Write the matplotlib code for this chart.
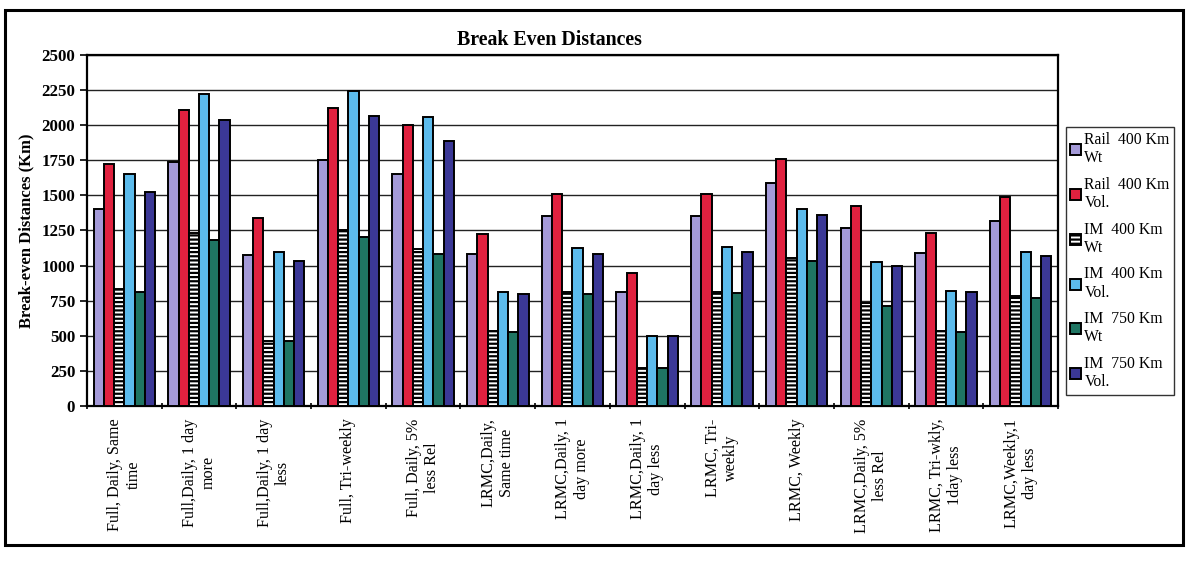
import numpy as np
import matplotlib
matplotlib.use("Agg")
import matplotlib.pyplot as plt
from matplotlib.patches import Rectangle

plt.rcParams['font.family'] = ['Liberation Serif', 'DejaVu Serif']
plt.rcParams['hatch.linewidth'] = 1.6

# scenarios along the x axis
categories = [
    "Full, Daily, Same\ntime",
    "Full,Daily, 1 day\nmore",
    "Full,Daily, 1 day\nless",
    "Full, Tri-weekly",
    "Full, Daily, 5%\nless Rel",
    "LRMC,Daily,\nSame time",
    "LRMC,Daily, 1\nday more",
    "LRMC,Daily, 1\nday less",
    "LRMC, Tri-\nweekly",
    "LRMC, Weekly",
    "LRMC,Daily, 5%\nless Rel",
    "LRMC, Tri-wkly,\n1day less",
    "LRMC,Weekly,1\nday less",
]

series_names = [
    "Rail  400 Km\nWt",
    "Rail  400 Km\nVol.",
    "IM  400 Km\nWt",
    "IM  400 Km\nVol.",
    "IM  750 Km\nWt",
    "IM  750 Km\nVol.",
]

rail_400_wt = [1400, 1740, 1075, 1755, 1650, 1085, 1350, 815, 1355, 1585, 1265, 1090, 1320]
rail_400_vol = [1720, 2105, 1340, 2125, 2000, 1225, 1510, 945, 1510, 1760, 1425, 1235, 1485]
im_400_wt = [835, 1235, 465, 1250, 1120, 535, 810, 270, 815, 1055, 730, 535, 785]
im_400_vol = [1655, 2225, 1100, 2245, 2060, 810, 1125, 495, 1135, 1405, 1025, 820, 1100]
im_750_wt = [810, 1185, 460, 1205, 1080, 530, 795, 270, 805, 1035, 710, 530, 770]
im_750_vol = [1525, 2040, 1030, 2065, 1890, 795, 1085, 500, 1095, 1360, 995, 810, 1065]

all_series = [rail_400_wt, rail_400_vol, im_400_wt, im_400_vol, im_750_wt, im_750_vol]
colors = ["#a49ad8", "#e0213f", "white", "#5cbbec", "#1f7563", "#3b3896"]
hatches = [None, None, "----", None, None, None]

fig = plt.figure(figsize=(11.88, 5.61), dpi=100)
ax = fig.add_axes([0.0732, 0.2763, 0.8174, 0.6257])

x = np.arange(len(categories))
bar_w = 0.137
for i, (vals, c, h, name) in enumerate(zip(all_series, colors, hatches, series_names)):
    offs = (i - 2.5) * bar_w
    ax.bar(x + offs, vals, width=bar_w, color=c, edgecolor="black",
           linewidth=1.4, hatch=h, label=name, zorder=3)

ax.set_xlim(-0.5, len(categories) - 0.5)
ax.set_ylim(0, 2500)
ax.set_yticks(np.arange(0, 2501, 250))
ax.yaxis.grid(True, color="#222222", linewidth=1.0, zorder=0)
ax.set_axisbelow(True)

# group boundaries get the tick marks, labels sit in the middle
ax.set_xticks(np.arange(-0.5, len(categories), 1.0))
ax.set_xticklabels([])
ax.set_xticks(x, minor=True)
ax.set_xticklabels(categories, minor=True, rotation=90, fontsize=11.6,
                   ha="center", va="top", multialignment="center")
ax.tick_params(axis="x", which="major", length=5, width=1.2, direction="inout")
ax.tick_params(axis="x", which="minor", length=0, pad=9)
ax.tick_params(axis="y", length=5, width=1.2, labelsize=12.2)
for lab in ax.get_yticklabels():
    lab.set_fontweight("bold")

for sp in ax.spines.values():
    sp.set_linewidth(1.6)
    sp.set_color("black")

ax.set_ylabel("Break-even Distances (Km)", fontsize=12, fontweight="bold", labelpad=5)

fig.text(0.4625, 0.928, "Break Even Distances", ha="center", va="center",
         fontsize=14.3, fontweight="bold")

leg = fig.legend(loc="upper left", bbox_to_anchor=(0.897, 0.773), fontsize=11.3,
                 frameon=True, fancybox=False, edgecolor="black",
                 handlelength=0.7, handleheight=0.7, handletextpad=0.2,
                 labelspacing=0.66, borderpad=0.3, borderaxespad=0)
leg.get_frame().set_linewidth(1.0)

# chart frame
fig.patches.append(Rectangle((0.004, 0.028), 0.992, 0.955, transform=fig.transFigure,
                             fill=False, edgecolor="black", linewidth=2.2))

fig.savefig("out.png", dpi=100)
